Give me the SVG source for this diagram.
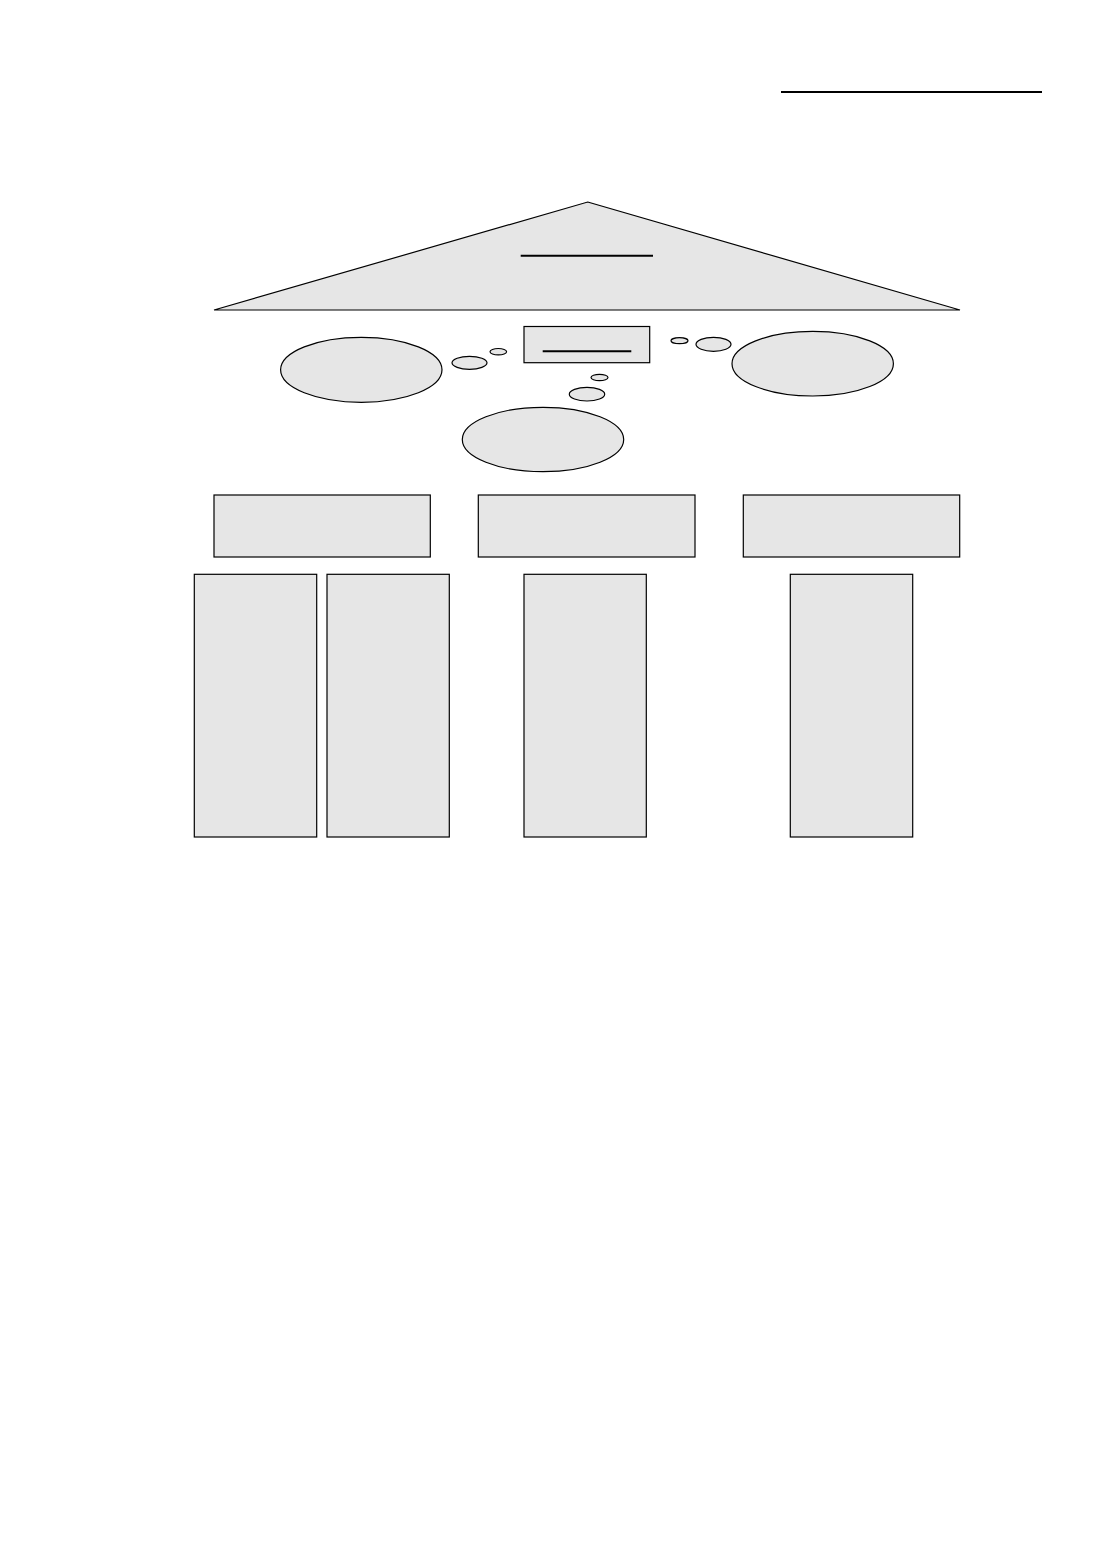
<svg xmlns="http://www.w3.org/2000/svg" width="1101" height="1562" viewBox="0 0 1101 1562">
<style>
.s{fill:#e6e6e6;stroke:#000;stroke-width:1.2}
.ln{stroke:#000;stroke-width:2;fill:none}
</style>
<rect width="1101" height="1562" fill="#fff"/>
<line x1="781" y1="92" x2="1042" y2="92" class="ln" stroke-width="1.5"/>
<g id="roof">
<polygon class="s" points="587.7,202 960,310 214,310"/>
<line class="ln" x1="520.7" y1="255.7" x2="653" y2="255.7"/>
</g>
<g id="center-box">
<rect class="s" x="524" y="326.5" width="125.7" height="36.2"/>
<line class="ln" x1="542.7" y1="351.3" x2="631.3" y2="351.3"/>
</g>
<g id="ellipse-left"><ellipse class="s" cx="361.3" cy="369.8" rx="80.7" ry="32.5"/></g>
<g id="ellipse-right"><ellipse class="s" cx="812.7" cy="363.7" rx="80.7" ry="32.3"/></g>
<g id="ellipse-bottom"><ellipse class="s" cx="543" cy="439.5" rx="80.7" ry="32.2"/></g>
<g id="bubbles">
<ellipse class="s" cx="498.3" cy="351.7" rx="8.3" ry="3.2"/>
<ellipse class="s" cx="469.5" cy="362.8" rx="17.5" ry="6.5"/>
<ellipse class="s" cx="679.5" cy="340.7" rx="8.5" ry="3"/>
<ellipse class="s" cx="713.5" cy="344.3" rx="17.5" ry="7"/>
<ellipse class="s" cx="599.5" cy="377.5" rx="8.5" ry="3.2"/>
<ellipse class="s" cx="587" cy="394.2" rx="17.7" ry="6.8"/>
</g>
<g id="box-1"><rect class="s" x="214" y="495" width="216.3" height="62"/></g>
<g id="box-2"><rect class="s" x="478.3" y="495" width="216.7" height="62"/></g>
<g id="box-3"><rect class="s" x="743.3" y="495" width="216.4" height="62"/></g>
<g id="col-1"><rect class="s" x="194.3" y="574.3" width="122.4" height="262.7"/></g>
<g id="col-2"><rect class="s" x="327" y="574.3" width="122.3" height="262.7"/></g>
<g id="col-3"><rect class="s" x="524" y="574.3" width="122.3" height="262.7"/></g>
<g id="col-4"><rect class="s" x="790.3" y="574.3" width="122.4" height="262.7"/></g>
<g id="connectors"></g>
</svg>
